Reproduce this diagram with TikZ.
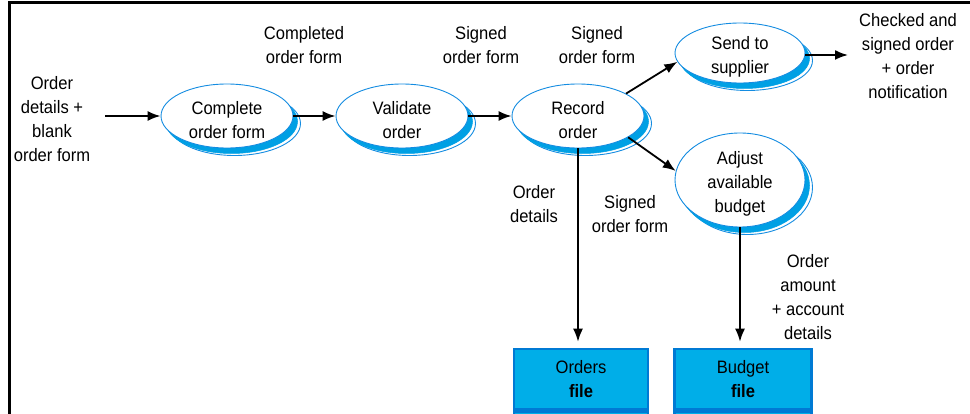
\documentclass[tikz,border=0pt]{standalone}
\usepackage{fontspec}
\setmainfont{Liberation Sans}[FakeStretch=0.92]
\usetikzlibrary{shapes.geometric,shadows,arrows.meta}
\definecolor{lineblue}{RGB}{20,140,225}
\definecolor{shblue}{RGB}{0,160,228}
\definecolor{boxfill}{RGB}{0,174,232}
\definecolor{boxline}{RGB}{0,122,212}
\begin{document}
\begin{tikzpicture}[x=1pt,y=-1pt,
  every node/.style={font=\fontsize{18}{24}\selectfont},
  lbl/.style={align=center, inner sep=0pt},
  proc/.style={ellipse, draw=lineblue, line width=0.9pt, fill=white, inner sep=0pt,
    minimum width=132pt, minimum height=64pt,
    general shadow={shadow xshift=7.5pt, shadow yshift=-7.5pt, fill=white, draw=lineblue, line width=0.9pt},
    general shadow={shadow xshift=4.5pt, shadow yshift=-5.5pt, fill=shblue, draw=shblue, line width=0.5pt},
    label={[lbl, yshift=-4pt]center:#1}},
  flow/.style={line width=1.8pt, -{Latex[length=13pt,width=10pt]}},
  store/.style={rectangle, draw=boxline, fill=boxfill, line width=2.5pt, minimum width=134pt,
    minimum height=60pt, align=center, inner sep=0pt}
]
\useasboundingbox (0,0) rectangle (970,414);
\clip (0,0) rectangle (970,414);
% frame
\draw[line width=3pt] (972,3) -- (9.5,3) -- (9.5,416);

% processes
\node[proc={Complete\\order form}] (cof) at (227,116) {};
\node[proc={Validate\\order}] (val) at (402,116) {};
\node[proc={Record\\order}] (rec) at (578,116) {};
\node[proc={Send to\\supplier}, minimum width=130pt, minimum height=60pt] (send) at (740,53) {};
\node[proc={Adjust\\available\\budget}, minimum width=130pt, minimum height=94pt] (adj) at (740,180) {};

% stores
\node[store] (ordersfile) at (581,379) {Orders\\\textbf{file}};
\node[store, anchor=north, minimum height=40pt] (ordersfile2) at (ordersfile.south) {};
\node[store, minimum width=137pt] (budgetfile) at (743,379) {Budget\\\textbf{file}};
\node[store, anchor=north, minimum width=137pt, minimum height=40pt] (budgetfile2) at (budgetfile.south) {};

% labels
\node[lbl] (lin) at (52,119) {Order\\details +\\blank\\order form};
\node[lbl] (lcof) at (304,45) {Completed\\order form};
\node[lbl] (ls1) at (481,45) {Signed\\order form};
\node[lbl] (ls2) at (597,45) {Signed\\order form};
\node[lbl] (lout) at (908,56) {Checked and\\signed order\\+ order\\notification};
\node[lbl] (lod) at (534,204) {Order\\details};
\node[lbl] (ls3) at (630,214) {Signed\\order form};
\node[lbl] (loa) at (808,297) {Order\\amount\\+ account\\details};

% connectors
\coordinate (inend) at (105,116);
\coordinate (outend) at (848,55);
\draw[flow] (inend) -- (cof.west);
\draw[flow] (cof.east) -- (val.west);
\draw[flow] (val.east) -- (rec.west);
\draw[flow] (rec.25) -- (send.188);
\draw[flow] (rec.-23) -- (adj.172);
\draw[flow] (send.east |- outend) -- (outend);
\draw[flow, shorten >=6pt] (rec.south) -- (rec.south |- ordersfile.north);
\draw[flow, shorten >=6pt] (adj.south) -- (adj.south |- budgetfile.north);
\end{tikzpicture}
\end{document}
